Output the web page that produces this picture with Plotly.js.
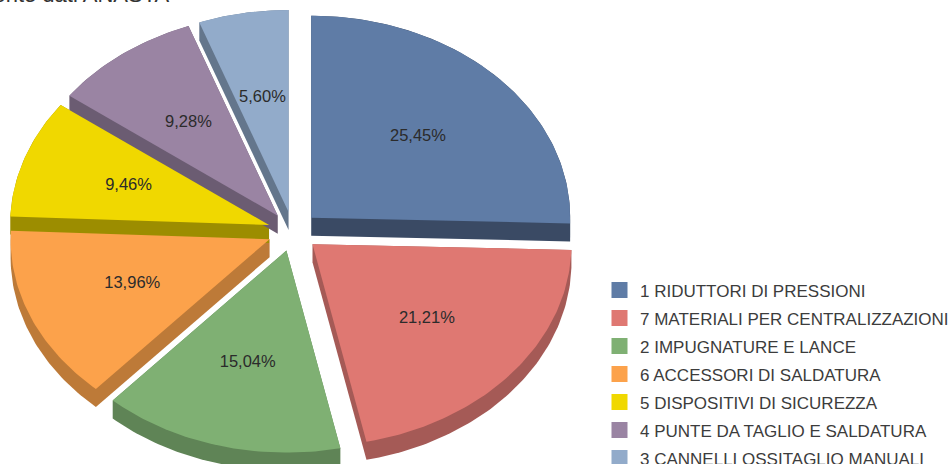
<!DOCTYPE html>
<html><head><meta charset="utf-8">
<script src="https://cdn.plot.ly/plotly-3.0.1.min.js"></script>
<style>html,body{margin:0;padding:0;background:#fff;overflow:hidden}</style>
</head><body><div id="chart" style="width:952px;height:464px"></div>
<script>
const categories = ["1 RIDUTTORI DI PRESSIONI","7 MATERIALI PER CENTRALIZZAZIONI","2 IMPUGNATURE E LANCE","6 ACCESSORI DI SALDATURA","5 DISPOSITIVI DI SICUREZZA","4 PUNTE DA TAGLIO E SALDATURA","3 CANNELLI OSSITAGLIO MANUALI"];
const shares = [25.45,21.21,15.04,13.96,9.46,9.28,5.60];
const topColors = ["#5f7ca6","#df7872","#7fb073","#fca24b","#f0d800","#9a84a3","#92abca"];
const sideColors = ["#3a4a64","#a55a56","#5f8456","#bd7a38","#9c8d00","#6b5c72","#64768c"];
const sourceNote = "Fonte dati ANASTA";

const cx=293, cy=231.5, rx=259, ry=202, depth=18, pull=0.098, labelAt=0.575;
const total = shares.reduce((a,b)=>a+b,0);
function hull(pts){
  const s=pts.slice().sort((p,q)=>p[0]-q[0]||p[1]-q[1]);
  const cr=(o,a,b)=>(a[0]-o[0])*(b[1]-o[1])-(a[1]-o[1])*(b[0]-o[0]);
  const half=l=>{const h=[];for(const p of l){while(h.length>1&&cr(h[h.length-2],h[h.length-1],p)<=0)h.pop();h.push(p);}h.pop();return h;};
  return half(s).concat(half(s.reverse()));
}
const sides=[],tops=[],labelX=[],labelY=[],labelText=[];
let start=0;
shares.forEach((v,i)=>{
  const a0=start/total*2*Math.PI, a1=(start+v)/total*2*Math.PI, mid=(a0+a1)/2;
  start+=v;
  const ox=cx+pull*rx*Math.sin(mid), oy=cy-pull*ry*Math.cos(mid);
  const pts=[[ox,oy]];
  const n=Math.ceil((a1-a0)*60);
  for(let k=0;k<=n;k++){const t=a0+(a1-a0)*k/n;pts.push([ox+rx*Math.sin(t),oy-ry*Math.cos(t)]);}
  const ext=hull(pts.concat(pts.map(p=>[p[0],p[1]+depth])));
  ext.push(ext[0]);
  sides.push({x:ext.map(p=>p[0]),y:ext.map(p=>p[1]),type:'scatter',mode:'lines',fill:'toself',fillcolor:sideColors[i],line:{width:0,color:sideColors[i]},showlegend:false,hoverinfo:'skip'});
  const c=pts.concat([pts[0]]);
  tops.push({x:c.map(p=>p[0]),y:c.map(p=>p[1]),type:'scatter',mode:'lines',fill:'toself',fillcolor:topColors[i],line:{width:0,color:topColors[i]},showlegend:false,name:categories[i],hoverinfo:'name'});
  labelX.push(ox+labelAt*rx*Math.sin(mid));
  labelY.push(oy-labelAt*ry*Math.cos(mid));
  labelText.push(v.toFixed(2).replace('.',',')+'%');
});
const labels={x:labelX,y:labelY,text:labelText,type:'scatter',mode:'text',textposition:'middle center',textfont:{family:'Liberation Sans, Arial, sans-serif',size:16.5,color:'#2b2b2b'},showlegend:false,hoverinfo:'skip'};
const legendItems=categories.map((c,i)=>({x:[null],y:[null],type:'scatter',mode:'markers',name:c,legendgroup:c,marker:{symbol:'square',size:16,color:topColors[i]},hoverinfo:'skip'}));
const layout={
  width:952,height:464,margin:{l:0,r:0,t:0,b:0,autoexpand:false},paper_bgcolor:'#fff',plot_bgcolor:'#fff',showlegend:true,
  xaxis:{range:[0,952],visible:false,fixedrange:true},
  yaxis:{range:[464,0],visible:false,fixedrange:true},
  legend:{x:599/952,xanchor:'left',y:1-272.5/464,yanchor:'top',font:{family:'Liberation Sans, Arial, sans-serif',size:17,color:'#3c3c3c'},traceorder:'grouped',tracegroupgap:2.9,itemwidth:31,bgcolor:'rgba(0,0,0,0)'},
  annotations:[{text:sourceNote,xref:'paper',yref:'paper',x:-22/952,y:1-9/464,xanchor:'left',yanchor:'bottom',showarrow:false,font:{family:'Liberation Sans, Arial, sans-serif',size:22,color:'#333'},captureevents:false}]
};
Plotly.newPlot('chart',[...sides,...tops,labels,...legendItems],layout,{displayModeBar:false});
</script></body></html>
